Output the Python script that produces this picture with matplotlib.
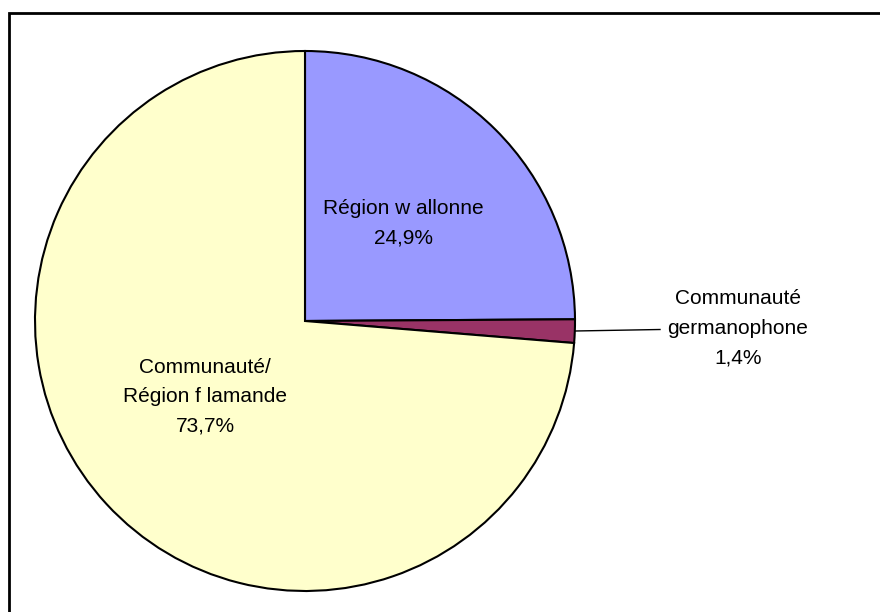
import matplotlib
matplotlib.use("Agg")
import matplotlib.pyplot as plt
from matplotlib.patches import Rectangle

labels = ["Région w allonne", "Communauté\ngermanophone", "Communauté/\nRégion f lamande"]
values = [24.9, 1.4, 73.7]
pct_labels = ["24,9%", "1,4%", "73,7%"]
colors = ["#9999FF", "#993366", "#FFFFCC"]

plt.rcParams['font.family'] = ['Liberation Sans', 'DejaVu Sans']

fig = plt.figure(figsize=(8.8, 6.12), dpi=100)
ax = fig.add_axes([0, 0, 1, 1])

# frame
ax.add_patch(Rectangle((8.5, -5), 900, 612 - 13 + 5, fill=False, edgecolor='black', lw=2))

cx, cy, r = 305, 612 - 321, 270
wedges, _ = ax.pie(values, colors=colors, startangle=90, counterclock=False,
                   center=(cx, cy), radius=r, frame=True,
                   wedgeprops=dict(edgecolor='black', linewidth=1.5))
ax.set_xlim(0, 880)
ax.set_ylim(0, 612)
ax.set_aspect('equal')
ax.axis('off')

fs = 15
ls = 1.7
ax.text(403, 612 - 223, labels[0] + "\n" + pct_labels[0], ha='center', va='center',
        fontsize=fs, linespacing=ls)
ax.text(205, 612 - 397, labels[2] + "\n" + pct_labels[2], ha='center', va='center',
        fontsize=fs, linespacing=ls)
ax.text(738, 612 - 328, labels[1] + "\n" + pct_labels[1], ha='center', va='center',
        fontsize=fs, linespacing=ls)
ax.plot([575, 660], [612 - 331, 612 - 329.5], color='black', lw=1)

fig.savefig("out.png", dpi=100)
